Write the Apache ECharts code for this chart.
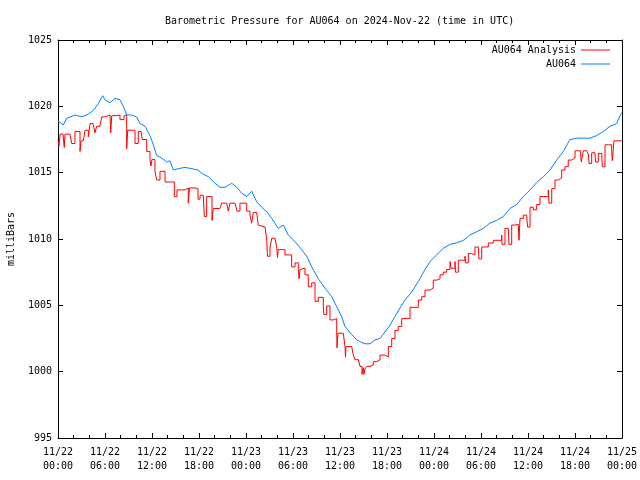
<!DOCTYPE html>
<html>
<head>
<meta charset="utf-8">
<script src="https://cdn.jsdelivr.net/npm/echarts@6/dist/echarts.min.js"></script>
<style>html,body{margin:0;padding:0;background:#fff}#c{width:640px;height:480px}</style>
</head>
<body>
<div id="c"></div>
<script>
// Hours since 2024-11-22 00:00 UTC
var dateLabels = ['11/22','11/22','11/22','11/22','11/23','11/23','11/23','11/23','11/24','11/24','11/24','11/24','11/25'];
var timeLabels = ['00:00','06:00','12:00','18:00','00:00','06:00','12:00','18:00','00:00','06:00','12:00','18:00','00:00'];

var analysisHours = [0.00,0.13,0.26,0.64,0.80,0.89,1.53,1.75,2.17,2.55,2.81,2.94,3.23,3.45,3.70,3.87,4.09,4.47,4.72,4.94,5.36,5.58,6.00,6.64,6.73,6.86,7.53,7.91,8.43,8.55,8.77,8.90,9.57,9.83,10.25,10.60,10.76,11.32,11.74,11.87,12.00,12.38,12.60,13.02,13.40,13.66,14.51,14.85,15.19,15.79,16.21,16.63,16.79,17.49,17.87,18.13,18.55,18.68,18.98,19.40,19.66,19.83,20.68,20.90,21.54,21.74,21.96,22.60,22.85,23.02,23.23,23.66,24.09,24.51,24.73,24.93,25.37,25.57,25.79,26.43,26.64,26.74,27.06,27.28,27.70,27.92,28.02,28.12,28.56,28.98,29.40,29.83,30.26,30.68,30.77,30.89,31.11,31.53,31.95,32.39,32.81,33.23,33.87,33.93,34.30,34.51,34.72,35.11,35.58,35.62,35.74,36.42,36.64,36.70,36.77,37.49,37.70,37.91,38.34,38.55,38.81,38.97,39.06,39.19,39.41,39.83,40.25,40.69,41.11,41.74,41.87,42.17,42.60,43.02,43.44,43.88,44.68,44.94,45.57,46.00,46.43,46.85,47.49,47.91,48.34,48.77,49.19,49.62,50.04,50.17,50.68,50.74,51.10,51.54,51.96,52.02,52.38,52.81,53.23,53.66,53.74,54.09,54.51,54.93,55.57,56.21,56.64,56.68,57.06,57.49,57.57,57.92,58.34,58.76,58.85,58.98,59.40,59.83,59.94,60.26,60.68,61.11,61.53,61.95,62.59,62.68,63.03,63.45,63.87,64.30,64.72,65.14,65.58,66.00,66.42,66.73,66.81,67.06,67.49,67.70,67.79,68.13,68.55,68.62,68.98,69.41,69.49,69.83,70.26,70.68,70.76,70.98,72.00];
var analysisValues = [1017.5,1017.0,1017.9,1017.9,1016.9,1017.9,1017.9,1017.2,1018.1,1018.1,1016.6,1017.4,1017.4,1018.2,1018.2,1017.7,1018.7,1018.7,1018.0,1018.5,1018.5,1019.2,1019.35,1019.3,1018.0,1019.3,1019.35,1019.0,1019.3,1019.35,1016.8,1018.2,1018.2,1017.2,1018.1,1018.1,1017.5,1016.6,1016.0,1015.5,1016.0,1015.1,1014.45,1015.1,1015.1,1014.3,1014.3,1013.2,1013.7,1013.7,1013.85,1012.7,1013.85,1013.8,1013.0,1013.3,1013.3,1011.7,1013.2,1013.2,1011.4,1012.3,1012.3,1012.7,1012.7,1012.1,1012.7,1012.7,1012.1,1012.1,1012.7,1012.7,1012.1,1011.8,1011.2,1012.0,1012.0,1011.05,1010.9,1010.9,1010.0,1008.7,1009.3,1010.05,1010.05,1009.4,1008.6,1009.2,1009.2,1008.8,1008.8,1007.9,1008.2,1007.7,1007.0,1007.7,1007.8,1007.3,1006.4,1006.7,1005.3,1005.6,1004.95,1004.3,1004.95,1004.95,1003.9,1004.0,1003.0,1001.8,1002.9,1002.9,1001.9,1001.1,1001.9,1001.9,1001.25,1000.9,1000.9,1000.4,999.8,1000.3,999.8,1000.2,1000.4,1000.5,1000.75,1000.9,1001.25,1001.4,1001.1,1001.9,1002.5,1003.1,1003.4,1004.0,1004.0,1004.85,1004.85,1005.4,1005.65,1006.15,1006.3,1006.9,1007.0,1007.3,1007.5,1007.7,1008.3,1007.8,1008.3,1007.5,1008.4,1008.4,1008.7,1008.2,1008.9,1008.8,1009.4,1009.3,1008.5,1009.4,1009.4,1009.7,1009.9,1009.9,1010.3,1009.6,1010.8,1010.7,1009.6,1011.05,1011.1,1011.0,1009.9,1011.55,1011.8,1011.9,1010.9,1012.4,1012.2,1012.6,1013.2,1013.2,1013.7,1012.7,1013.8,1014.45,1014.6,1015.2,1015.45,1015.95,1016.1,1016.65,1016.65,1016.2,1015.8,1016.65,1016.65,1016.4,1015.7,1016.5,1016.5,1015.8,1016.45,1016.3,1015.45,1017.1,1017.1,1016.7,1015.9,1017.4,1017.4];

var stationHours = [0.00,0.13,0.68,1.11,2.17,3.02,3.87,4.51,5.15,5.70,6.00,6.64,7.28,7.91,8.34,8.77,9.40,10.04,10.47,11.11,11.74,12.17,12.60,13.24,13.88,14.30,14.72,15.36,16.21,17.06,17.87,18.34,19.19,20.04,20.68,21.32,22.17,22.81,23.45,24.09,24.73,25.37,26.00,26.64,27.28,28.13,28.77,29.40,30.26,31.11,31.75,32.39,33.23,34.09,34.94,35.58,36.21,36.64,37.49,38.13,38.77,39.19,39.83,40.47,41.11,41.74,42.38,43.02,43.66,44.30,45.15,46.00,46.85,47.49,48.34,49.19,50.04,50.89,51.74,52.60,53.45,54.30,55.15,56.00,56.85,57.70,58.55,59.40,60.26,61.11,61.96,62.81,63.66,64.51,65.36,66.21,67.06,67.91,68.77,69.62,70.47,71.32,71.83,72.00];
var stationValues = [1018.9,1018.92,1018.6,1019.1,1019.35,1019.2,1019.4,1019.7,1020.2,1020.8,1020.5,1020.27,1020.6,1020.5,1020.0,1019.35,1019.35,1019.2,1018.7,1018.5,1017.8,1017.1,1016.3,1016.1,1015.8,1015.9,1015.2,1015.3,1015.4,1015.3,1015.2,1014.95,1014.7,1014.2,1013.9,1013.9,1014.2,1013.9,1013.45,1013.2,1013.6,1012.8,1012.4,1012.06,1011.56,1010.8,1011.05,1010.3,1009.8,1009.2,1008.7,1007.9,1007.0,1006.3,1005.65,1004.9,1004.15,1003.4,1002.8,1002.4,1002.2,1002.1,1002.1,1002.4,1002.5,1003.0,1003.5,1004.15,1004.8,1005.4,1006.0,1006.8,1007.7,1008.3,1008.8,1009.3,1009.6,1009.7,1009.9,1010.3,1010.55,1010.8,1011.2,1011.4,1011.7,1012.3,1012.6,1013.2,1013.7,1014.25,1014.7,1015.2,1015.95,1016.6,1017.5,1017.6,1017.6,1017.6,1017.8,1018.1,1018.5,1018.7,1019.4,1019.5];

function pairs(xs, ys) { return xs.map(function (x, i) { return [x, ys[i]]; }); }

var FONT = 'DejaVu Sans Mono';
var chart = echarts.init(document.getElementById('c'), null, { renderer: 'canvas' });

function xAx(pos, showLabels) {
  return {
    type: 'value', position: pos, min: 0, max: 72, interval: 6,
    axisLine: { show: true, onZero: false, lineStyle: { color: '#000', width: 1 } },
    axisTick: { show: true, inside: true, length: 5, lineStyle: { color: '#000' } },
    minorTick: { show: true, splitNumber: 3, length: 3, lineStyle: { color: '#000' } },
    splitLine: { show: false },
    axisLabel: {
      show: showLabels, margin: 7, fontFamily: FONT, fontSize: 10, color: '#000', lineHeight: 14,
      formatter: function (v) { var i = Math.round(v / 6); return dateLabels[i] + '\n' + timeLabels[i]; }
    }
  };
}
function yAx(pos, showLabels) {
  var a = {
    type: 'value', position: pos, min: 995, max: 1025, interval: 5,
    axisLine: { show: true, onZero: false, lineStyle: { color: '#000', width: 1 } },
    axisTick: { show: true, inside: true, length: 5, lineStyle: { color: '#000' } },
    splitLine: { show: false },
    axisLabel: {
      show: showLabels, margin: 6, fontFamily: FONT, fontSize: 10, color: '#000',
      formatter: function (v) { return String(v); }
    }
  };
  if (showLabels) {
    a.name = 'milliBars';
    a.nameLocation = 'middle';
    a.nameGap = 42;
    a.nameTextStyle = { fontFamily: FONT, fontSize: 10, color: '#000' };
  }
  return a;
}

var legendCommon = {
  orient: 'vertical', right: 25, align: 'right', icon: 'rect',
  itemWidth: 29, itemHeight: 1, itemGap: 0,
  textStyle: { fontFamily: FONT, fontSize: 10, color: '#000' }
};

chart.setOption({
  animation: false,
  backgroundColor: '#fff',
  title: {
    text: 'Barometric Pressure for AU064 on 2024-Nov-22 (time in UTC)',
    left: 160, top: 11,
    textStyle: { fontFamily: FONT, fontSize: 10, fontWeight: 'normal', color: '#000' }
  },
  legend: [
    Object.assign({}, legendCommon, { data: ['AU064 Analysis'], top: 40 }),
    Object.assign({}, legendCommon, { data: ['AU064'], top: 54 })
  ],
  grid: { left: 58, right: 18, top: 40, bottom: 42, containLabel: false, outerBoundsMode: 'none' },
  xAxis: [xAx('bottom', true), xAx('top', false)],
  yAxis: [yAx('left', true), yAx('right', false)],
  series: [
    {
      name: 'AU064 Analysis', type: 'line', xAxisIndex: 0, yAxisIndex: 0, step: 'end',
      data: pairs(analysisHours, analysisValues), showSymbol: false, symbol: 'none',
      lineStyle: { color: '#ff0000', width: 1 }, itemStyle: { color: '#ff0000' }
    },
    {
      name: 'AU064', type: 'line', xAxisIndex: 0, yAxisIndex: 0,
      data: pairs(stationHours, stationValues), showSymbol: false, symbol: 'none',
      lineStyle: { color: '#0080ff', width: 1 }, itemStyle: { color: '#0080ff' }
    }
  ]
});
</script>
</body>
</html>
